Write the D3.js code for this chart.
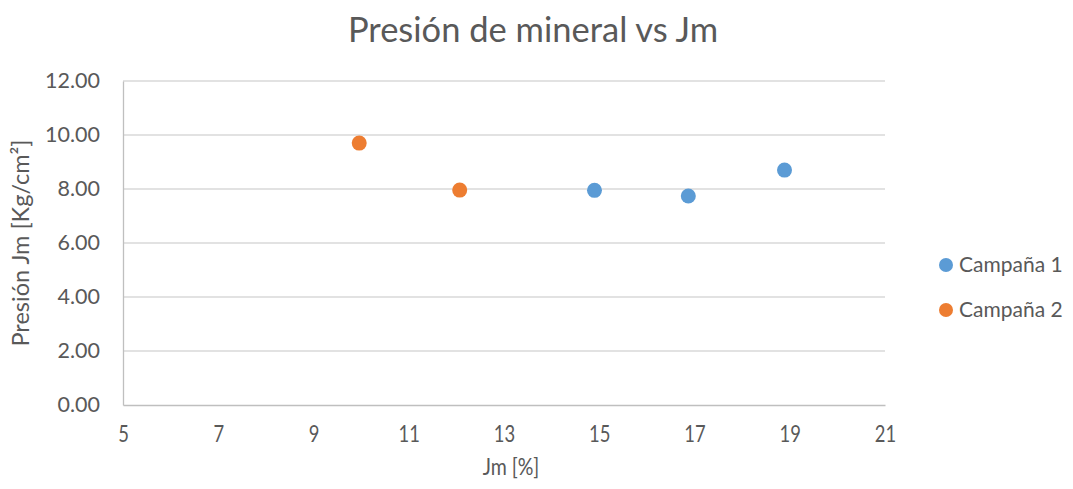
<!DOCTYPE html>
<html>
<head>
<meta charset="utf-8">
<script src="https://cdn.jsdelivr.net/npm/d3@7"></script>
<style>
  body { margin: 0; background: #fff; }
  svg text { font-family: Lato, "Open Sans", sans-serif; fill: #595959; }
</style>
</head>
<body>
<div id="chart"></div>
<script>
// ── Datos ─────────────────────────────────────────
const seriesNames = ['Campaña 1', 'Campaña 2'];
const seriesColors = ['#5B9BD5', '#ED7D31'];
const campana1X = [14.9, 16.87, 18.89];
const campana1Y = [7.95, 7.74, 8.70];
const campana2X = [9.96, 12.07];
const campana2Y = [9.70, 7.96];
const xTicks = [5, 7, 9, 11, 13, 15, 17, 19, 21];
const yTicks = [0, 2, 4, 6, 8, 10, 12];

const W = 1073, H = 489;
const margin = { left: 123, right: 188, top: 81, bottom: 84 };

const svg = d3.select('#chart').append('svg')
    .attr('width', W).attr('height', H);

const x = d3.scaleLinear().domain([5, 21]).range([margin.left, W - margin.right]);
const y = d3.scaleLinear().domain([0, 12]).range([H - margin.bottom, margin.top]);

// ── Título ───────────────────────────────────────
svg.append('text')
    .attr('x', 533).attr('y', 42)
    .attr('text-anchor', 'middle')
    .style('font-size', '34.5px')
    .text('Presión de mineral vs Jm');

// ── Rejilla ──────────────────────────────────────
svg.append('g')
    .selectAll('line')
    .data(yTicks.filter(d => d > 0))
    .join('line')
    .attr('x1', x(5)).attr('x2', x(21))
    .attr('y1', d => y(d)).attr('y2', d => y(d))
    .attr('stroke', '#D9D9D9').attr('stroke-width', 1.3);

// ── Ejes ─────────────────────────────────────────
const yAxis = svg.append('g')
    .attr('transform', `translate(${x(5)},0)`)
    .call(d3.axisLeft(y).tickValues(yTicks).tickFormat(d3.format('.2f')).tickSize(0).tickPadding(23));
yAxis.select('.domain').attr('stroke', '#BFBFBF').attr('stroke-width', 1.3);
yAxis.selectAll('text').style('font-size', '21.5px').style('fill', '#595959');

const xAxis = svg.append('g')
    .attr('transform', `translate(0,${y(0)})`)
    .call(d3.axisBottom(x).tickValues(xTicks).tickFormat(d3.format('d')).tickSize(0));
xAxis.select('.domain').attr('stroke', '#BFBFBF').attr('stroke-width', 1.3);
// etiquetas del eje X algo estrechas, como en el original
xAxis.selectAll('text')
    .attr('y', 37).attr('dy', null)
    .attr('transform', 'scale(0.8,1)')
    .style('font-size', '23px').style('fill', '#595959');

// ── Títulos de ejes ──────────────────────────────
svg.append('text')
    .attr('x', 511).attr('y', 475)
    .attr('text-anchor', 'middle')
    .attr('transform', 'translate(511,0) scale(0.85,1) translate(-511,0)')
    .style('font-size', '23px')
    .text('Jm [%]');

svg.append('text')
    .attr('transform', `translate(29,${y(6)}) rotate(-90)`)
    .attr('text-anchor', 'middle')
    .style('font-size', '23.5px')
    .text('Presión Jm [Kg/cm²]');

// ── Puntos ───────────────────────────────────────
const series = [
    { name: seriesNames[0], color: seriesColors[0], xs: campana1X, ys: campana1Y },
    { name: seriesNames[1], color: seriesColors[1], xs: campana2X, ys: campana2Y }
];

series.forEach(s => {
    svg.append('g')
        .selectAll('circle')
        .data(s.xs.map((v, i) => [v, s.ys[i]]))
        .join('circle')
        .attr('cx', d => x(d[0]))
        .attr('cy', d => y(d[1]))
        .attr('r', 7.5)
        .attr('fill', s.color);
});

// ── Leyenda ──────────────────────────────────────
const legend = svg.append('g')
    .selectAll('g')
    .data(series)
    .join('g')
    .attr('transform', (d, i) => `translate(946,${265 + i * 45})`);

legend.append('circle').attr('r', 7).attr('fill', d => d.color);
legend.append('text')
    .attr('x', 13).attr('dy', '0.35em')
    .style('font-size', '21px')
    .text(d => d.name);
</script>
</body>
</html>
